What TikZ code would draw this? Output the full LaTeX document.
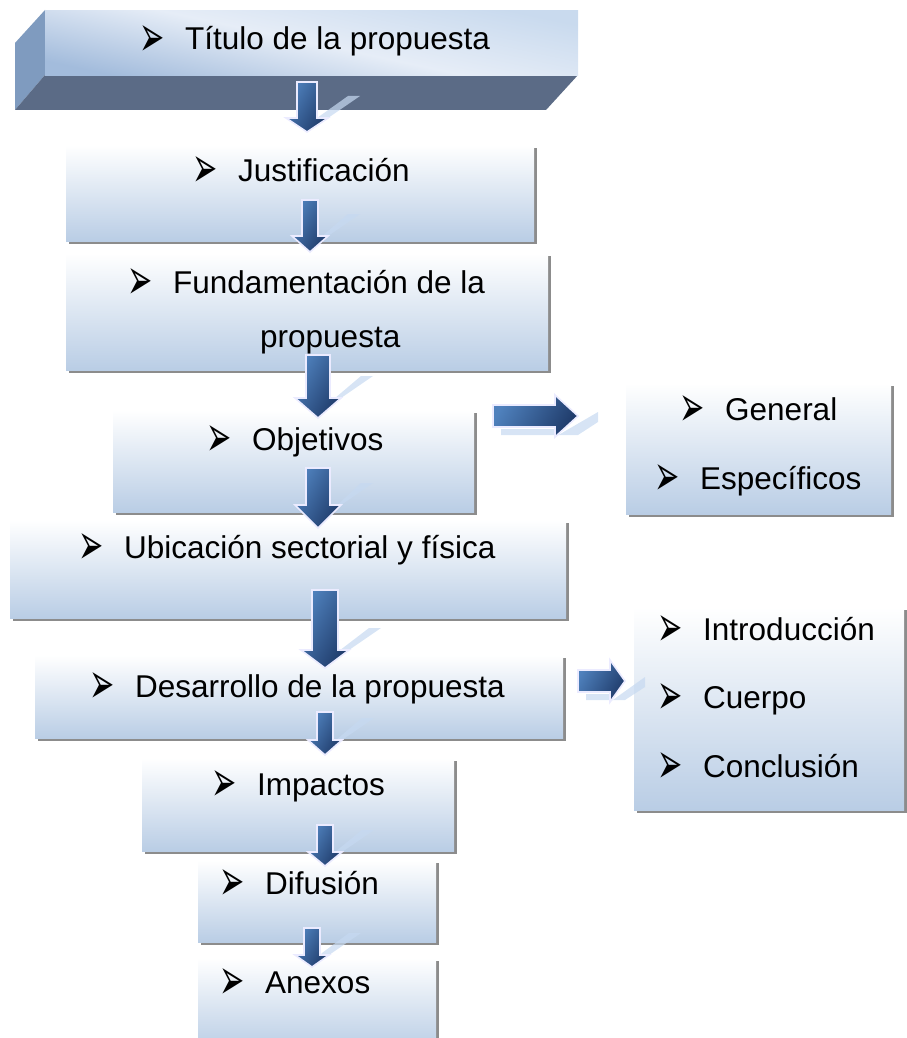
\documentclass[tikz,border=0pt]{standalone}
\usepackage{fontspec}
\usepackage{graphicx}
\setmainfont{Liberation Sans}
\newfontfamily\dejavu{DejaVu Sans}
\usetikzlibrary{shadows}
\definecolor{boxblue}{HTML}{B9CDE5}
\definecolor{arrL}{HTML}{4F81BD}
\definecolor{arrD}{HTML}{1F3B6A}
\definecolor{reflc}{HTML}{C6D9F1}
\definecolor{leftface}{HTML}{7F9BBF}
\definecolor{botface}{HTML}{5B6B86}
\definecolor{frontA}{HTML}{C9DAEE}
\definecolor{frontB}{HTML}{E6EDF7}
\definecolor{frontC}{HTML}{A3BCDC}
\newcommand\bul{\raisebox{-6.5pt}[0pt][0pt]{\scalebox{0.52}[1]{\dejavu\fontsize{58}{58}\selectfont ➢}}}
\newcommand\myDown[7]{% cx ytop ybase ytip halfshaft halfhead
  \fill[reflc, opacity=.7] (#1,#4) -- (#1+#6,#3) -- (#1+#6+32,#3-22) -- (#1+#6+20,#3-22) -- (#1+10,#4-14) -- cycle;
  \shade[arrowstyle] (#1-#5,#2) -- (#1+#5,#2) -- (#1+#5,#3) -- (#1+#6,#3) -- (#1,#4) -- (#1-#6,#3) -- (#1-#5,#3) -- cycle;
}
\newcommand\myRight[7]{% cy xleft xbase xtip halfshaft halfhead
  \fill[reflc, opacity=.7] (#2+8,#1+#5+2) -- (#3,#1+#5+2) -- (#3,#1+#6) -- (#4+20,#1-4) -- (#4+20,#1+6) -- (#4,#1+#5+8) -- (#2+8,#1+#5+8) -- cycle;
  \shade[arrowstyle] (#2,#1-#5) -- (#3,#1-#5) -- (#3,#1-#6) -- (#4,#1) -- (#3,#1+#6) -- (#3,#1+#5) -- (#2,#1+#5) -- cycle;
}
\tikzset{
  gbox/.style={top color=white, bottom color=boxblue, draw=none, inner sep=0pt, anchor=north west,
    drop shadow={shadow xshift=3pt, shadow yshift=-3pt, fill=black!45, opacity=1}},
  arrowstyle/.style={left color=arrL, right color=arrD, shading angle=60, draw=white!92!blue, line width=1.6pt, line join=miter},
  lbl/.style={anchor=base west, inner sep=0pt, font=\fontsize{31.5}{36}\selectfont},
}
\newcommand\bx[5]{\node[gbox, minimum width=#4-#2, minimum height=#5-#3] (#1) at (#2,#3) {};}
\newcommand\lb[4]{\node[lbl] (#1) at (#2-46,#3) {\makebox[46pt][l]{\bul}#4};}
\begin{document}
\begin{tikzpicture}[x=1pt, y=-1pt]
\useasboundingbox (0,0) rectangle (906,1038);
% top 3D box
\fill[leftface] (15,43) -- (45,10) -- (45,75) -- (15,110) -- cycle;
\fill[botface] (15,110) -- (45,75) -- (578,75) -- (546,110) -- cycle;
\node[inner sep=0pt, anchor=north west, minimum width=533, minimum height=65,
  top color=frontA, bottom color=frontC, middle color=frontB, shading angle=-12] (tbox) at (45,10) {};
% boxes
\bx{bjust}{66}{145}{534}{241}
\bx{bfund}{66}{253}{548}{370}
\bx{bobj}{113}{410}{474}{512}
\bx{bgen}{626}{383}{891}{514}
\bx{bubic}{10}{520}{566}{618}
\bx{bdes}{35}{655}{563}{738}
\bx{bintro}{634}{607}{904}{810}
\bx{bimp}{142}{758}{454}{851}
\bx{bdif}{198}{860}{436}{942}
\bx{banex}{198}{958}{436}{1050}
% arrows
\myDown{307}{82}{118}{132}{10}{21}{}
\myDown{310}{200}{236}{252}{8}{18}{}
\myDown{318}{355}{398}{418}{12}{23}{}
\myDown{318}{468}{505}{528}{12}{23}{}
\myDown{325}{590}{650}{668}{13}{24}{}
\myDown{325}{712}{740}{755}{8}{17}{}
\myDown{325}{825}{852}{866}{8}{17}{}
\myDown{312}{928}{955}{967}{8}{17}{}
\myRight{416}{493}{555}{578}{11}{21}{}
\myRight{681}{578}{610}{625}{11}{21}{}
% labels
\lb{t1}{185}{50}{Título de la propuesta}
\lb{t2}{238}{181}{Justificación}
\lb{t3}{173}{293}{Fundamentación de la}
\node[lbl] (t3b) at (260,347) {propuesta};
\lb{t4}{252}{450}{Objetivos}
\lb{t5}{725}{420}{General}
\lb{t6}{700}{489}{Específicos}
\lb{t7}{124}{558}{Ubicación sectorial y física}
\lb{t8}{135}{697}{Desarrollo de la propuesta}
\lb{t9}{703}{640}{Introducción}
\lb{t10}{703}{708}{Cuerpo}
\lb{t11}{703}{777}{Conclusión}
\lb{t12}{257}{795}{Impactos}
\lb{t13}{265}{894}{Difusión}
\lb{t14}{265}{993}{Anexos}
\end{tikzpicture}
\end{document}
